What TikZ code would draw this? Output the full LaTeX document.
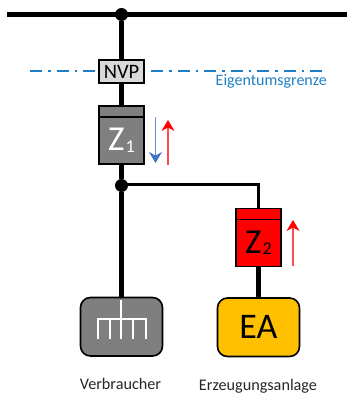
\documentclass[tikz,border=0pt]{standalone}
\usepackage{fontspec}
\setmainfont{Carlito}
\usetikzlibrary{arrows.meta}
\definecolor{eigen}{HTML}{1F7FC4}
\definecolor{grayb}{HTML}{7F7F7F}
\definecolor{nvpg}{HTML}{D9D9D9}
\definecolor{gold}{HTML}{FFC000}
\definecolor{downb}{HTML}{4472C4}
\definecolor{upr}{HTML}{FF0000}
\tikzset{
  x=1pt,y=-1pt,
  wire/.style={line width=4.3pt,black},
  wirethin/.style={line width=3.4pt,black},
  junction/.style={circle,fill=black,inner sep=0pt,minimum size=13pt},
  boxbase/.style={draw=black,line width=1.6pt,inner sep=0pt,outer sep=0pt,anchor=north west,minimum width=45pt},
  header/.style={boxbase,minimum height=11pt},
  meter/.style={boxbase,minimum height=47pt},
  device/.style={draw=black,line width=1.6pt,rounded corners=10pt,inner sep=0pt,outer sep=0pt,anchor=north west,minimum width=82pt,minimum height=58.5pt},
  flowup/.style={draw=upr!70,line width=1.1pt,-{Stealth[length=11pt,width=13pt,fill=upr,color=upr]}},
  flowdown/.style={draw=downb!80,line width=1.1pt,-{Stealth[length=11pt,width=13pt,fill=downb,color=downb]}},
  border/.style={draw=eigen,line width=1.2pt,dash pattern=on 12pt off 6pt on 2.5pt off 6pt},
  tine/.style={draw=white,line width=2.2pt},
  caption/.style={font=\fontsize{16.2}{18}\selectfont,text=black!85,inner sep=0pt},
  metertext/.style={font=\fontsize{35}{38}\selectfont}
}
\newcommand{\zsub}[1]{\kern1pt\raisebox{-1.5pt}{\fontsize{18}{20}\selectfont #1}}
\begin{document}
\begin{tikzpicture}
\useasboundingbox (0,0) rectangle (347,396);
% bus
\coordinate (busL) at (7,14.5);
\coordinate (busR) at (347,14.5);
\node[junction] (top) at (121.5,14.5) {};
% boundary line
\coordinate (gL) at (30,71);
\coordinate (gLe) at (98,71);
\coordinate (gRs) at (151,71);
\coordinate (gR) at (327,71);
% boxes
\node[boxbase,fill=nvpg,minimum height=23pt] (nvp) at (99,60) {\fontsize{20.5}{22}\selectfont NVP};
\node[header,fill=grayb] (z1h) at (99,106) {};
\node[meter,fill=grayb,text=white,metertext] (z1) at (99,117) {Z\zsub{1}};
\node[junction] (j) at (121.5,185.5) {};
\node[header,fill=upr] (z2h) at (236,208.5) {};
\node[meter,fill=upr,metertext] (z2) at (236,219.5) {Z\zsub{2}};
\node[device,fill=grayb] (verb) at (80.5,297.5) {};
\node[device,fill=gold] (ea) at (217.5,298) {\fontsize{36}{38}\selectfont EA};
% wires
\draw[wire] (busL) -- (busR);
\draw[wire] (top) -- (nvp.north);
\draw[wire] (nvp.south) -- (z1h.north);
\draw[wire] (z1.south) -- (j);
\draw[wire] (j) -- (verb.north);
\draw[wirethin] (j.center) ++(0,-1) -| (z2h.north);
\draw[wire] (z2.south) -- (ea.north);
% boundary
\draw[border] (gL) -- (gLe);
\draw[border] (gRs) -- (gR);
\node[anchor=east,inner sep=0pt,text=eigen,font=\fontsize{16}{18}\selectfont] (eg) at (327,81.5) {Eigentumsgrenze};
% arrows
\coordinate (a1s) at (155.5,117);
\coordinate (a1e) at (155.5,163);
\coordinate (a2s) at (168,165);
\coordinate (a2e) at (168,120);
\coordinate (a3s) at (293,266);
\coordinate (a3e) at (293,220);
\draw[flowdown] (a1s) -- (a1e);
\draw[flowup] (a2s) -- (a2e);
\draw[flowup] (a3s) -- (a3e);
% load symbol
\coordinate (s0) at (121.3,300);
\coordinate (s1) at (121.3,339);
\coordinate (h0) at (97.7,339);
\coordinate (h1) at (97.7,319);
\coordinate (h2) at (146,319);
\coordinate (h3) at (146,339);
\coordinate (t1a) at (110,319);
\coordinate (t1b) at (110,339);
\coordinate (t2a) at (132.7,319);
\coordinate (t2b) at (132.7,339);
\draw[tine] (s0) -- (s1);
\draw[tine] (h0) -- (h1) -- (h2) -- (h3);
\draw[tine] (t1a) -- (t1b);
\draw[tine] (t2a) -- (t2b);
% captions
\node[caption] (vlab) at (120.5,384) {Verbraucher};
\node[caption] (elab) at (258,386) {Erzeugungsanlage};
\end{tikzpicture}
\end{document}
